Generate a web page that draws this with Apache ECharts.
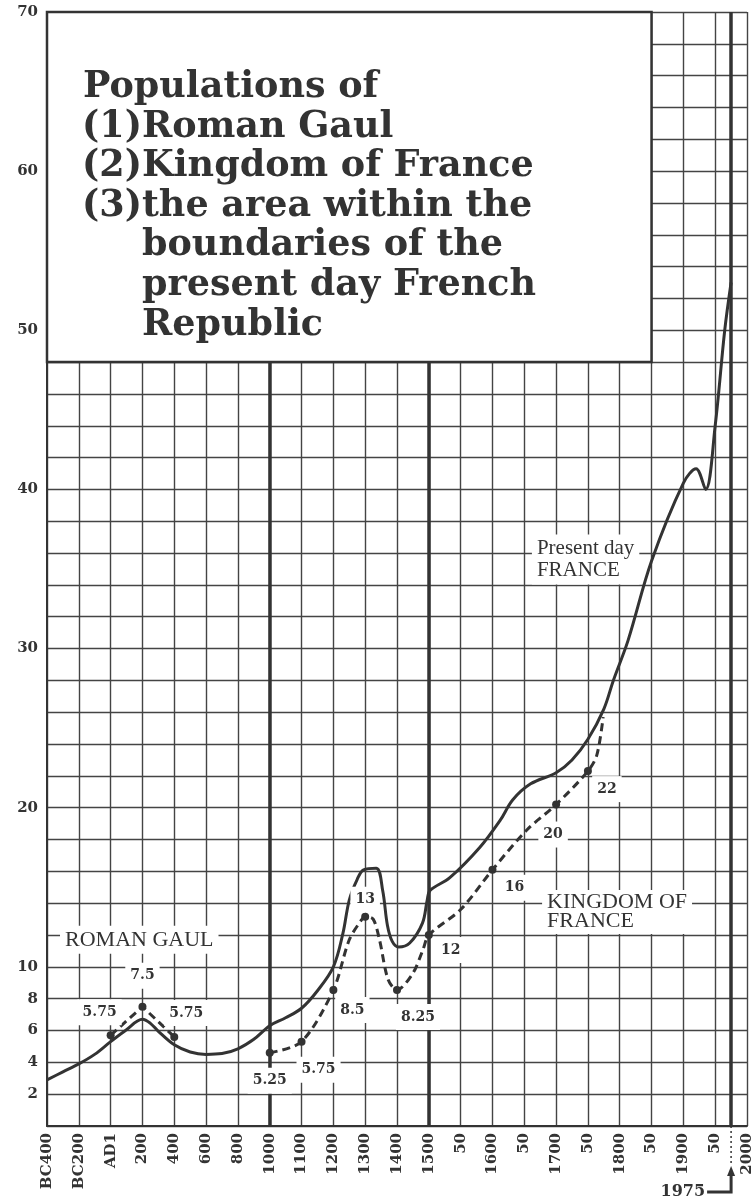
<!DOCTYPE html>
<html>
<head>
<meta charset="utf-8">
<title>Populations of Roman Gaul, Kingdom of France, present day France</title>
<script src="https://cdn.jsdelivr.net/npm/echarts@6/dist/echarts.min.js"></script>
<style>
  html, body { margin: 0; padding: 0; background: #fff; }
  #chart { width: 756px; height: 1201px; }
</style>
</head>
<body>
<div id="chart"></div>
<script>
// x axis is not linear in time: every tick is one step, whatever the years between
const tickYears  = [-400, -200, 1, 200, 400, 600, 800, 1000, 1100, 1200, 1300, 1400, 1500, 1550, 1600, 1650, 1700, 1750, 1800, 1850, 1900, 1950, 2000];
const tickLabels = ["BC400", "BC200", "AD1", "200", "400", "600", "800", "1000", "1100", "1200", "1300", "1400", "1500", "50", "1600", "50", "1700", "50", "1800", "50", "1900", "50", "2000"];
const yLabels = [2, 4, 6, 8, 10, 20, 30, 40, 50, 60, 70];

// (3) area of the present day French Republic, millions
const presentYears  = [-400, -300, -200, -100, 1, 100, 200, 250, 300, 400, 500, 600, 700, 800, 900, 1000, 1050, 1100, 1150, 1200, 1230, 1250, 1275, 1295, 1335, 1355, 1370, 1385, 1405, 1440, 1480, 1495, 1502, 1533, 1580, 1612, 1632, 1660, 1700, 1725, 1750, 1775, 1790, 1813, 1850, 1900, 1920, 1935, 1950, 1965, 1975];
const presentValues = [2.9, 3.4, 3.9, 4.5, 5.3, 6.05, 6.7, 6.45, 5.95, 5.1, 4.65, 4.5, 4.55, 4.85, 5.45, 6.3, 6.8, 7.4, 8.5, 10.0, 12.1, 14.2, 15.5, 16.1, 16.2, 14.8, 12.6, 11.6, 11.25, 11.5, 12.75, 14.2, 14.8, 15.6, 17.5, 19.2, 20.5, 21.5, 22.2, 23.0, 24.3, 26.2, 28.0, 30.5, 35.5, 40.4, 41.3, 40.0, 44.0, 50.0, 53.0];

// (1) Roman Gaul
const gaulYears  = [1, 200, 400];
const gaulValues = [5.7, 7.5, 5.6];
const gaulLabels = ["5.75", "7.5", "5.75"];

// (2) Kingdom of France ("" = curve point only, no marker)
const kingdomYears  = [1000, 1100, 1200, 1250, 1290, 1300, 1325, 1345, 1372, 1400, 1450, 1482, 1500, 1550, 1600, 1654, 1700, 1750, 1764, 1774];
const kingdomValues = [4.6, 5.3, 8.55, 11.7, 13.0, 13.15, 13.0, 11.7, 9.2, 8.55, 9.6, 11.1, 12.0, 13.6, 16.1, 18.6, 20.2, 22.3, 23.3, 25.7];
const kingdomLabels = ["5.25", "5.75", "8.5", "", "", "13", "", "", "", "8.25", "", "", "12", "", "16", "", "20", "22", "", ""];

// heavy vertical rules
const ruleYears = [1000, 1500, 1975];

// label offsets from their marker, px
const gaulLabelOffsets = [[-11, -23], [0, -31], [12, -24]];
const kingdomLabelOffsets = {
  0: [0, 28], 1: [17, 28], 2: [19, 20], 5: [0, -17], 9: [21, 27],
  12: [22, 15], 14: [22, 18], 16: [-3, 30], 17: [19, 18]
};

const INK = "#333";
const SERIF = "'DejaVu Serif', serif";
const TIMES = "'Liberation Serif', 'Times New Roman', serif";

function toAxis(year) {
  for (let i = 0; i < tickYears.length - 1; i++) {
    if (year <= tickYears[i + 1]) {
      return i + (year - tickYears[i]) / (tickYears[i + 1] - tickYears[i]);
    }
  }
  return tickYears.length - 1;
}

const numLabel = {
  show: true,
  position: "inside",
  align: "center",
  verticalAlign: "middle",
  color: INK,
  fontFamily: SERIF,
  fontWeight: "bold",
  fontSize: 14,
  backgroundColor: "#fff",
  padding: [6, 5]
};

const chart = echarts.init(document.getElementById("chart"), null, { renderer: "canvas" });

chart.setOption({
  animation: false,
  backgroundColor: "#fff",
  grid: { left: 47, right: 9, top: 12, bottom: 75 },
  xAxis: {
    type: "value",
    min: 0,
    max: tickYears.length - 1,
    interval: 1,
    axisLine: { show: true, onZero: false, lineStyle: { color: INK, width: 2 } },
    axisTick: { show: false },
    splitLine: { show: true, lineStyle: { color: "#444", width: 1.4 } },
    axisLabel: {
      rotate: 90,
      margin: 7,
      color: INK,
      fontFamily: SERIF,
      fontWeight: "bold",
      fontSize: 15,
      formatter: (v) => tickLabels[v] ?? ""
    }
  },
  yAxis: {
    type: "value",
    min: 0,
    max: 70,
    interval: 2,
    axisLine: { show: true, lineStyle: { color: INK, width: 2 } },
    axisTick: { show: false },
    splitLine: { show: true, lineStyle: { color: "#444", width: 1.4 } },
    axisLabel: {
      margin: 9,
      color: INK,
      fontFamily: SERIF,
      fontWeight: "bold",
      fontSize: 15,
      formatter: (v) => (yLabels.includes(v) ? String(v) : "")
    }
  },
  series: [
    {
      name: "Present day France",
      type: "line",
      z: 3,
      smooth: 0.35,
      symbol: "none",
      lineStyle: { color: INK, width: 3 },
      data: presentYears.map((y, i) => [toAxis(y), presentValues[i]]),
      markLine: {
        silent: true,
        symbol: "none",
        z: 1,
        label: { show: false },
        lineStyle: { color: INK, width: 3.5, type: "solid" },
        data: ruleYears.map((y) => ({ xAxis: toAxis(y) }))
      }
    },
    {
      name: "Roman Gaul",
      type: "line",
      z: 5,
      symbol: "circle",
      symbolSize: 8,
      itemStyle: { color: INK },
      lineStyle: { color: INK, width: 3, type: [8, 5] },
      label: { ...numLabel, formatter: (p) => gaulLabels[p.dataIndex] },
      data: gaulYears.map((y, i) => ({
        value: [toAxis(y), gaulValues[i]],
        label: { offset: gaulLabelOffsets[i] }
      }))
    },
    {
      name: "Kingdom of France",
      type: "line",
      z: 5,
      smooth: 0.3,
      symbol: "circle",
      symbolSize: 8,
      itemStyle: { color: INK },
      lineStyle: { color: INK, width: 3, type: [8, 5] },
      label: { ...numLabel, formatter: (p) => kingdomLabels[p.dataIndex] },
      data: kingdomYears.map((y, i) => {
        const item = { value: [toAxis(y), kingdomValues[i]] };
        if (kingdomLabels[i]) {
          item.label = { offset: kingdomLabelOffsets[i] };
        } else {
          item.symbol = "none";
          item.label = { show: false };
        }
        return item;
      })
    }
  ]
});

// title box and annotations, placed in data coordinates
const px = (year, v) => chart.convertToPixel({ gridIndex: 0 }, [toAxis(year), v]);
const boxTL = chart.convertToPixel({ gridIndex: 0 }, [0, 70]);
const boxBR = chart.convertToPixel({ gridIndex: 0 }, [19, 48]);

const titleLines = [
  ["", "Populations of"],
  ["(1)", "Roman Gaul"],
  ["(2)", "Kingdom of France"],
  ["(3)", "the area within the"],
  ["", "boundaries of the"],
  ["", "present day French"],
  ["", "Republic"]
];
const titleFont = `bold 36.5px ${SERIF}`;

const graphic = [
  {
    type: "rect",
    z: 50,
    shape: { x: boxTL[0], y: boxTL[1], width: boxBR[0] - boxTL[0], height: boxBR[1] - boxTL[1] },
    style: { fill: "#fff", stroke: INK, lineWidth: 2.5 }
  }
];
titleLines.forEach(([num, text], i) => {
  const y = boxTL[1] + 57 + i * 39.6;
  const indent = i === 0 ? 36 : 95;
  if (num) {
    graphic.push({
      type: "text", z: 51, x: boxTL[0] + 35, y,
      style: { text: num, font: titleFont, fill: INK, verticalAlign: "alphabetic" }
    });
  }
  graphic.push({
    type: "text", z: 51, x: boxTL[0] + indent, y,
    style: { text, font: titleFont, fill: INK, verticalAlign: "alphabetic" }
  });
});

const annot = (pos, text, size, lh, align) => ({
  type: "text", z: 40, x: pos[0], y: pos[1],
  style: {
    text, font: `${size}px ${TIMES}`, fill: INK, align, verticalAlign: "middle",
    lineHeight: lh, backgroundColor: "#fff", padding: [3, 5]
  }
});
graphic.push(annot(px(180, 11.7), "ROMAN GAUL", 22, 22, "center"));
graphic.push(annot(px(1662, 35.6), "Present day\nFRANCE", 21, 22, "left"));
graphic.push(annot(px(1678, 13.45), "KINGDOM OF\nFRANCE", 22, 19, "left"));

// 1975 pointer under the axis
const p75 = px(1975, 0);
graphic.push(
  { type: "line", z: 40, shape: { x1: p75[0], y1: p75[1], x2: p75[0], y2: p75[1] + 40 },
    style: { stroke: INK, lineWidth: 1.5, lineDash: [2, 3] } },
  { type: "polygon", z: 40,
    shape: { points: [[p75[0], p75[1] + 40], [p75[0] - 4, p75[1] + 50], [p75[0] + 4, p75[1] + 50]] },
    style: { fill: INK } },
  { type: "polyline", z: 40,
    shape: { points: [[p75[0], p75[1] + 48], [p75[0], p75[1] + 66], [p75[0] - 24, p75[1] + 66]] },
    style: { stroke: INK, lineWidth: 3, fill: null } },
  { type: "text", z: 40, x: p75[0] - 26, y: p75[1] + 66,
    style: { text: "1975", font: `bold 16px ${SERIF}`, fill: INK, align: "right", verticalAlign: "middle" } }
);

chart.setOption({ graphic });
</script>
</body>
</html>
